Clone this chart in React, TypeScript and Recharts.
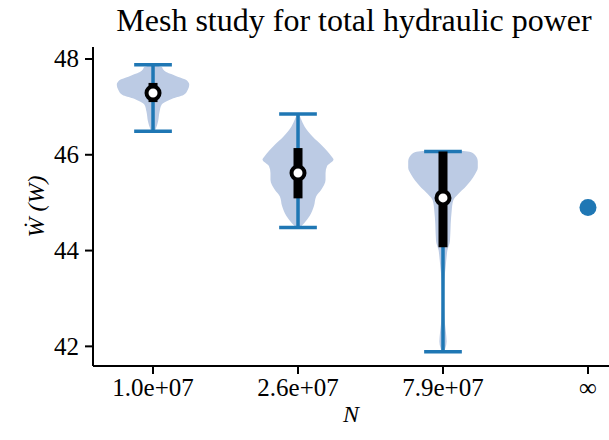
import React from 'react';
import { ComposedChart, Area, XAxis, YAxis, ReferenceLine, ReferenceDot } from 'recharts';

const categories = ['1.0e+07', '2.6e+07', '7.9e+07', '∞'];
const yTicks = [42, 44, 46, 48];

// whiskers, quartiles and medians of the three meshes
const whiskerLow = [46.49, 44.48, 41.89];
const whiskerHigh = [47.88, 46.85, 46.07];
const quartileLow = [47.1, 45.09, 44.07];
const quartileHigh = [47.5, 46.14, 46.07];
const medians = [47.29, 45.62, 45.1];
const extrapolated = 44.9;

// violin outlines: levels (W) and half widths (in category units)
const levels1 = [46.49, 46.55, 46.7, 46.9, 47.05, 47.11, 47.18, 47.25, 47.36, 47.46, 47.56, 47.63, 47.68, 47.73, 47.78, 47.83, 47.86, 47.88];
const widths1 = [0.01, 0.02, 0.035, 0.045, 0.06, 0.09, 0.14, 0.21, 0.24, 0.25, 0.23, 0.17, 0.13, 0.09, 0.07, 0.06, 0.03, 0.015];

const levels2 = [44.48, 44.52, 44.58, 44.72, 44.93, 45.13, 45.27, 45.48, 45.62, 45.76, 45.9, 45.97, 46.18, 46.38, 46.59, 46.75, 46.85];
const widths2 = [0.01, 0.025, 0.045, 0.08, 0.11, 0.125, 0.16, 0.19, 0.19, 0.2, 0.245, 0.23, 0.17, 0.1, 0.045, 0.02, 0.008];

const levels3 = [41.89, 41.95, 42.1, 42.3, 42.6, 43.0, 43.4, 43.65, 43.93, 44.0, 44.2, 44.55, 44.83, 45.04, 45.18, 45.31, 45.45, 45.59, 45.73, 45.86, 46.0, 46.06, 46.08];
const widths3 = [0.005, 0.015, 0.025, 0.02, 0.01, 0.007, 0.01, 0.018, 0.027, 0.03, 0.048, 0.053, 0.06, 0.07, 0.105, 0.15, 0.19, 0.22, 0.24, 0.24, 0.22, 0.19, 0.14];

const violinLevels = [levels1, levels2, levels3];
const violinWidths = [widths1, widths2, widths3];

const rows: Record<string, any>[] = [];
violinLevels.forEach((lv, i) => {
  lv.forEach((y, j) => {
    const w = violinWidths[i][j];
    rows.push({ y, [`v${i}`]: [i - w, i + w] });
  });
});
rows.sort((a, b) => a.y - b.y);

const FONT = 'Liberation Serif, serif';
const BLUE = '#1f77b4';
const VIOLIN = '#bccbe4';
const textStyle = { fontFamily: FONT, fontSize: 25, fill: '#000' };

const XTick = ({ x, y, payload }: any) => (
  <text x={x} y={y} dy="0.72em" textAnchor="middle" style={textStyle}>
    {categories[payload.value]}
  </text>
);

const YTick = ({ x, y, payload }: any) => (
  <text x={x} y={y} dy="0.34em" textAnchor="end" style={textStyle}>
    {payload.value}
  </text>
);

const YLabel = ({ viewBox }: any) => {
  const cx = viewBox.x + 36;
  const cy = viewBox.y + viewBox.height / 2;
  return (
    <text
      x={cx}
      y={cy}
      transform={`rotate(-90 ${cx} ${cy})`}
      textAnchor="middle"
      dominantBaseline="central"
      style={{ ...textStyle, fontSize: 24, fontStyle: 'italic' }}
    >
      Ẇ (W)
    </text>
  );
};

const XLabel = ({ viewBox }: any) => (
  <text
    x={viewBox.x + viewBox.width / 2}
    y={viewBox.y + viewBox.height - 18}
    textAnchor="middle"
    style={{ ...textStyle, fontSize: 24, fontStyle: 'italic' }}
  >
    N
  </text>
);

export default function App() {
  return (
    <div style={{ position: 'absolute', left: 0, top: 0, width: 609, height: 440, background: '#fff', fontFamily: FONT }}>
      <div
        style={{
          position: 'absolute',
          left: 93,
          top: 0,
          width: 522,
          textAlign: 'center',
          fontSize: 32,
          lineHeight: '40px',
          color: '#000',
        }}
      >
        Mesh study for total hydraulic power
      </div>
      <ComposedChart
        width={609}
        height={440}
        layout="vertical"
        data={rows}
        margin={{ top: 47, right: 0, bottom: 0, left: 0 }}
      >
        <XAxis
          type="number"
          domain={[-0.414, 3.145]}
          allowDataOverflow
          ticks={[0, 1, 2, 3]}
          interval={0}
          height={74}
          axisLine={{ stroke: '#000', strokeWidth: 2 }}
          tickLine={{ stroke: '#000', strokeWidth: 2 }}
          tickSize={8}
          tickMargin={4}
          tick={<XTick />}
          label={{ content: XLabel }}
        />
        <XAxis
          xAxisId="top"
          orientation="top"
          type="number"
          domain={[-0.414, 3.145]}
          allowDataOverflow
          height={0}
          tick={false}
          tickLine={false}
          axisLine={{ stroke: '#000', strokeWidth: 2 }}
        />
        <YAxis
          type="number"
          dataKey="y"
          domain={[41.59, 48.25]}
          allowDataOverflow
          reversed
          ticks={yTicks}
          interval={0}
          width={93}
          axisLine={{ stroke: '#000', strokeWidth: 2 }}
          tickLine={{ stroke: '#000', strokeWidth: 2 }}
          tickSize={8}
          tickMargin={6}
          tick={<YTick />}
          label={{ content: YLabel }}
        />
        {violinLevels.map((_, i) => (
          <Area
            key={`violin-${i}`}
            dataKey={`v${i}`}
            type="monotone"
            connectNulls
            stroke="none"
            fill={VIOLIN}
            fillOpacity={1}
            dot={false}
            activeDot={false}
            isAnimationActive={false}
          />
        ))}
        {medians.map((_, i) => (
          <ReferenceLine
            key={`whisker-${i}`}
            segment={[{ x: i, y: whiskerLow[i] }, { x: i, y: whiskerHigh[i] }]}
            stroke={BLUE}
            strokeWidth={3.5}
          />
        ))}
        {medians.map((_, i) => (
          <ReferenceLine
            key={`caplo-${i}`}
            segment={[{ x: i - 0.13, y: whiskerLow[i] }, { x: i + 0.13, y: whiskerLow[i] }]}
            stroke={BLUE}
            strokeWidth={3.5}
          />
        ))}
        {medians.map((_, i) => (
          <ReferenceLine
            key={`caphi-${i}`}
            segment={[{ x: i - 0.13, y: whiskerHigh[i] }, { x: i + 0.13, y: whiskerHigh[i] }]}
            stroke={BLUE}
            strokeWidth={3.5}
          />
        ))}
        {medians.map((_, i) => (
          <ReferenceLine
            key={`box-${i}`}
            segment={[{ x: i, y: quartileLow[i] }, { x: i, y: quartileHigh[i] }]}
            stroke="#000"
            strokeWidth={9}
          />
        ))}
        {medians.map((m, i) => (
          <ReferenceDot key={`med-${i}`} x={i} y={m} r={6.5} fill="#fff" stroke="#000" strokeWidth={4} />
        ))}
        <ReferenceDot x={3} y={extrapolated} r={8.5} fill={BLUE} stroke="none" />
      </ComposedChart>
    </div>
  );
}
